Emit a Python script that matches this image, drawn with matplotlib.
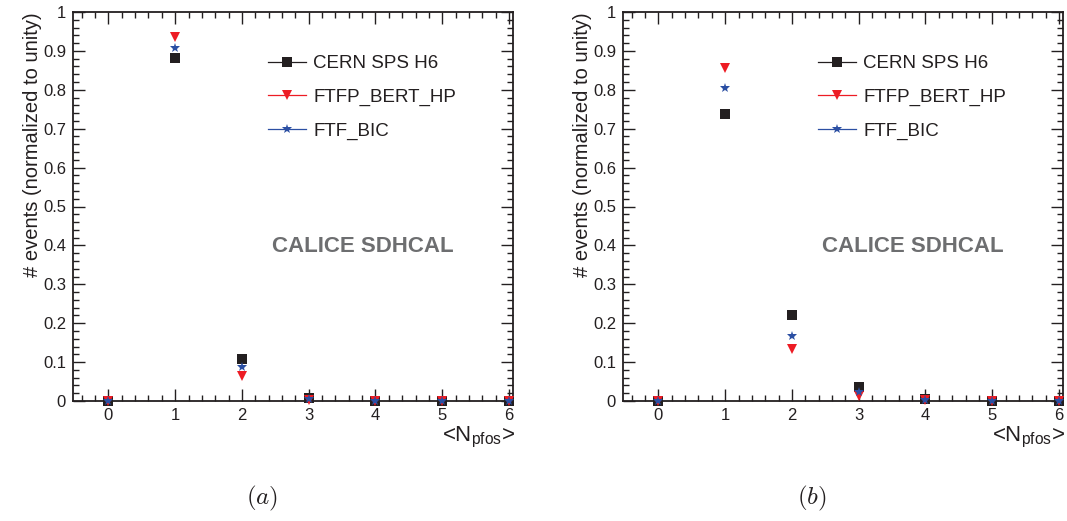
import numpy as np
import matplotlib
matplotlib.use("Agg")
import matplotlib.pyplot as plt
from matplotlib.lines import Line2D
from matplotlib.ticker import MultipleLocator

plt.rcParams['font.family'] = ['Liberation Sans', 'DejaVu Sans']
plt.rcParams['mathtext.fontset'] = 'custom'
plt.rcParams['mathtext.rm'] = 'Liberation Sans'
plt.rcParams['mathtext.it'] = 'Liberation Sans:italic'

# data
n_pfos = [0, 1, 2, 3, 4, 5, 6]
series_names = ["CERN SPS H6", "FTFP_BERT_HP", "FTF_BIC"]

cern_a = [0.0, 0.882, 0.108, 0.008, 0.0, 0.0, 0.0]
ftfp_a = [0.0, 0.935, 0.065, 0.003, 0.0, 0.0, 0.0]
bic_a = [0.0, 0.907, 0.088, 0.005, 0.0, 0.0, 0.0]

cern_b = [0.0, 0.737, 0.222, 0.037, 0.004, 0.0, 0.0]
ftfp_b = [0.0, 0.856, 0.133, 0.013, 0.002, 0.0, 0.0]
bic_b = [0.0, 0.805, 0.168, 0.024, 0.003, 0.0, 0.0]

y_ticks = [0, 0.1, 0.2, 0.3, 0.4, 0.5, 0.6, 0.7, 0.8, 0.9, 1]
y_tick_labels = ["0", "0.1", "0.2", "0.3", "0.4", "0.5", "0.6", "0.7", "0.8", "0.9", "1"]

colors = ['#231f20', '#ed1c24', '#2b4fa3']
markers = ['s', 'v', '*']
msizes = [7, 7, 7]

W, H = 1067, 521
fig = plt.figure(figsize=(W / 100, H / 100), dpi=100)


def draw_panel(x0, vals, caption):
    ax = fig.add_axes([x0 / W, (H - 401) / H, 440 / W, 389 / H])
    for v, c, m, s in zip(vals, colors, markers, msizes):
        ax.plot(n_pfos, v, linestyle='none', marker=m, color=c, markersize=s,
                markeredgewidth=0, clip_on=False, zorder=3)
    ax.set_xlim(-0.53, 6.06)
    ax.set_ylim(0, 1)
    ax.set_xticks(n_pfos)
    ax.set_yticks(y_ticks)
    ax.set_yticklabels(y_tick_labels)
    ax.xaxis.set_minor_locator(MultipleLocator(0.2))
    ax.yaxis.set_minor_locator(MultipleLocator(0.02))
    ax.tick_params(which='both', direction='in', top=True, right=True,
                   labelsize=12, color='#231f20', labelcolor='#231f20', width=1)
    ax.tick_params(which='major', length=8.5, pad=5)
    ax.tick_params(which='minor', length=4.3)
    for sp in ax.spines.values():
        sp.set_linewidth(1.3)
        sp.set_color('#231f20')
    ax.set_ylabel("# events (normalized to unity)", fontsize=14.5, color='#231f20')
    ax.yaxis.set_label_coords(-0.07, 1.0, transform=ax.transAxes)
    ax.yaxis.label.set_horizontalalignment('right')
    ax.text(1.005, -0.093, r"<N$_{\mathregular{pfos}}$>", transform=ax.transAxes,
            ha='right', va='center', fontsize=16, color='#231f20')
    ax.text(0.658, 0.397, "CALICE SDHCAL", transform=ax.transAxes, ha='center',
            va='center', fontsize=16, fontweight='bold', color='#6d6e70')
    handles = [Line2D([0], [0], color=c, marker=m, markersize=s, markeredgewidth=0, lw=0.9)
               for c, m, s in zip(colors, markers, msizes)]
    ax.legend(handles, series_names, loc='upper left', bbox_to_anchor=(0.423, 0.913),
              frameon=False, fontsize=13.5, handlelength=2.0, handletextpad=0.4,
              labelspacing=0.88, borderpad=0, labelcolor='#231f20')
    fig.text((x0 + 189) / W, (H - 498) / H, caption, ha='center', va='center',
             fontsize=18, math_fontfamily='cm', color='#231f20')
    return ax


draw_panel(73, [cern_a, ftfp_a, bic_a], r"$(a)$")
draw_panel(623, [cern_b, ftfp_b, bic_b], r"$(b)$")

fig.savefig("out.png", dpi=100)
